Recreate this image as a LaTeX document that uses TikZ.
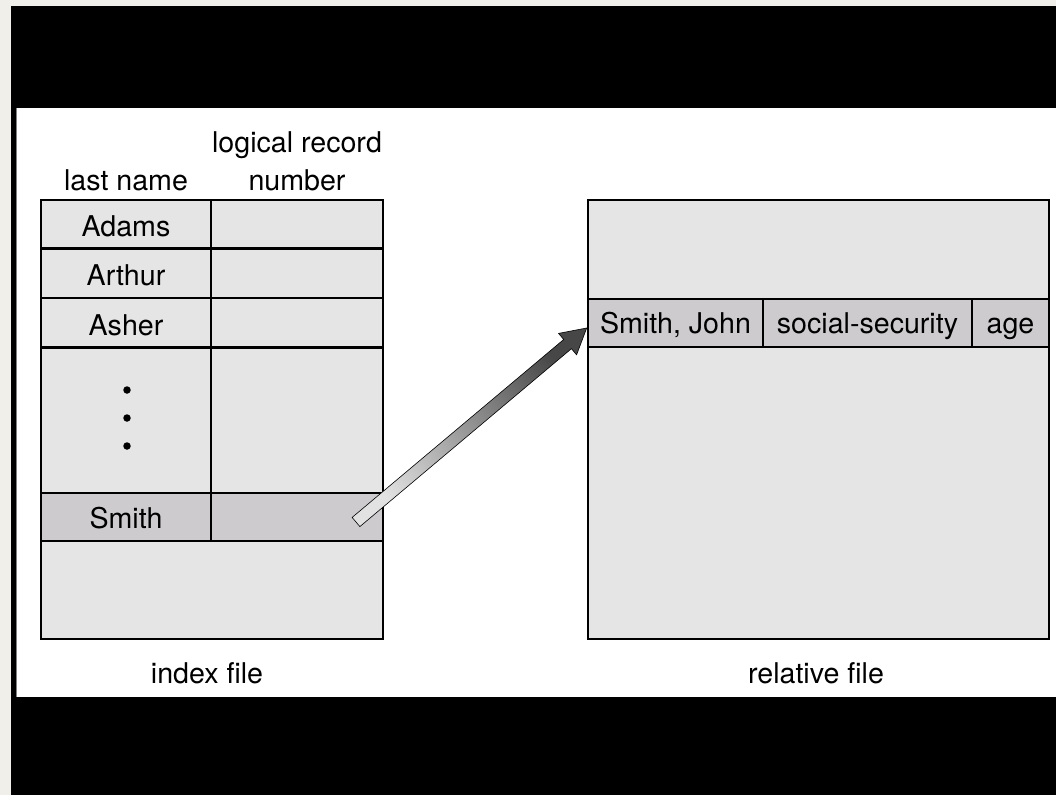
\documentclass[tikz,border=0pt]{standalone}
\usepackage{fontspec}
\setmainfont{TeX Gyre Heros}
\usetikzlibrary{calc}
\definecolor{paper}{HTML}{F1EFEA}
\definecolor{cellgray}{HTML}{E5E5E5}
\definecolor{keygray}{HTML}{CDCBCE}
\definecolor{tailgray}{HTML}{E2E2E2}
\definecolor{headgray}{HTML}{474747}
\begin{document}
\begin{tikzpicture}[x=1pt, y=-1pt,
  font=\fontsize{28.6}{34}\selectfont,
  cell/.style={draw=black, line width=2.6pt, fill=cellgray, inner sep=0pt,
    text height=25pt, text depth=0pt},
  keycell/.style={cell, fill=keygray},
  reccell/.style={keycell, text height=20pt},
  caption/.style={anchor=base, inner sep=0pt},
  dot/.style={circle, fill=black, inner sep=0pt, minimum size=7.5pt}]
  % page, dark bands and white panel
  \fill[paper] (0,0) rectangle (1056,795);
  \fill[black] (11,6) rectangle (1056,795);
  \fill[white] (16,108) rectangle (1056,697);
  \draw[gray, line width=0.8pt] (16.4,108) -- (16.4,697);
  \useasboundingbox (0,0) rectangle (1056,795);

  % index file
  \node[cell, minimum width=170pt, minimum height=48.5pt] (adams)  at (126,224.25) {Adams};
  \node[cell, minimum width=172pt, minimum height=48.5pt] (adamsn) at (297,224.25) {};
  \node[cell, minimum width=170pt, minimum height=49.5pt] (arthur)  at (126,273.25) {Arthur};
  \node[cell, minimum width=172pt, minimum height=49.5pt] (arthurn) at (297,273.25) {};
  \node[cell, minimum width=170pt, minimum height=49.5pt] (asher)  at (126,322.75) {Asher};
  \node[cell, minimum width=172pt, minimum height=49.5pt] (ashern) at (297,322.75) {};
  \node[cell, minimum width=170pt, minimum height=145.5pt] (gap)  at (126,420.25) {};
  \node[cell, minimum width=172pt, minimum height=145.5pt] (gapn) at (297,420.25) {};
  \node[dot] (d1) at (127,390) {};
  \node[dot] (d2) at (127,418) {};
  \node[dot] (d3) at (127,446) {};
  \node[keycell, minimum width=170pt, minimum height=48pt, text height=23pt] (smith) at (126,517) {Smith};
  \node[keycell, minimum width=172pt, minimum height=48pt] (smithnum) at (297,517) {};
  \node[cell, minimum width=342pt, minimum height=98pt] (idxfree) at (212,590) {};

  \node[caption] (hname) at (126,190) {last name};
  \node[caption] (hlog)  at (297,152) {logical record};
  \node[caption] (hnum)  at (297,190) {number};
  \node[caption] (idxlabel) at (207,683) {index file};

  % relative file
  \node[cell, minimum width=461pt, minimum height=99pt] (reltop) at (818.5,249.5) {};
  \node[reccell, minimum width=175pt, minimum height=48pt] (john) at (675.5,323) {Smith, John};
  \node[reccell, minimum width=209pt, minimum height=48pt] (ssn)  at (867.5,323) {social-security};
  \node[reccell, minimum width=77pt,  minimum height=48pt] (age)  at (1010.5,323) {age};
  \node[cell, minimum width=461pt, minimum height=292pt] (relfree) at (818.5,493) {};
  \node[caption] (rellabel) at (816,683) {relative file};

  % pointer from the index entry to the record
  \coordinate (tail) at ($(smithnum.center)+(59,5)$);
  \coordinate (tip)  at ($(john.west)+(0,5)$);
  \coordinate (hb)   at ($(tip)!25pt!(tail)$);
  \shade[draw=black, line width=0.6pt, line join=miter,
         bottom color=tailgray, top color=headgray, shading angle=-50]
    ($(tail)!6pt!90:(tip)$) -- ($(hb)!6pt!90:(tip)$) -- ($(hb)!14pt!90:(tip)$)
    -- (tip) -- ($(hb)!14pt!-90:(tip)$) -- ($(hb)!6pt!-90:(tip)$)
    -- ($(tail)!6pt!-90:(tip)$) -- cycle;
\end{tikzpicture}
\end{document}
